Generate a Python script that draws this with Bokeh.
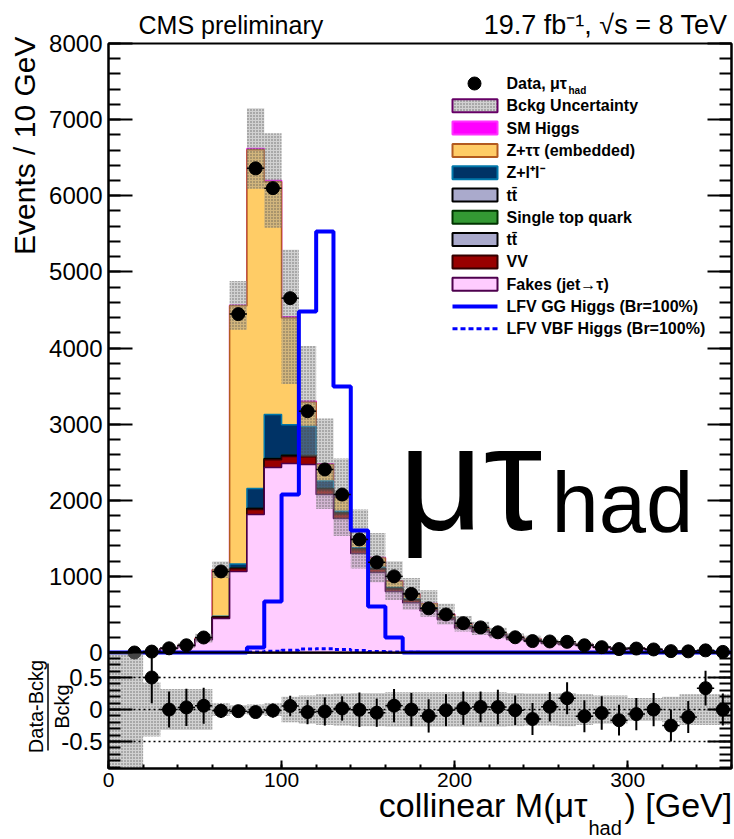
import math
import numpy as np
from bokeh.plotting import figure
from bokeh.models import Label, FixedTicker, LinearAxis, Range1d, GridBox
from bokeh.embed import file_html
from bokeh.resources import INLINE

FONT = "Liberation Sans"

# 10 GeV bins of the collinear mass, 0-360 GeV
bin_edges = list(range(0, 370, 10))

# observed events per bin (None: no entry drawn)
data_obs = [None, 0, 12, 55, 95, 197, 1065, 4445, 6360, 6100, 4655, 3170, 2405, 2075,
            1485, 1185, 1000, 770, 580, 500, 385, 330, 265, 200, 150, 145, 140, 95,
            70, 45, 52, 40, 18, 15, 28, 8]

# background processes, stacked bottom to top
bkg_fakes = [1, 3, 8, 52, 85, 168, 447, 1064, 1813, 2431, 2484, 2470, 2076, 1760,
             1300, 1050, 800, 655, 550, 432, 322, 272, 220, 175, 153, 121, 104, 93,
             65, 47, 49, 35, 21, 15, 18, 7]
bkg_vv = [0, 0, 0, 0, 0, 3, 15, 35, 65, 100, 90, 100, 62, 60, 50, 45, 35, 30, 25, 20,
          16, 14, 12, 10, 9, 7, 6, 5, 4, 3, 3, 2, 1, 1, 1, 0]
bkg_ttbar = [0, 0, 0, 0, 0, 0, 3, 6, 12, 14, 14, 15, 12, 10, 8, 8, 7, 6, 5, 5, 4, 4, 3,
             3, 2, 2, 2, 2, 1, 1, 1, 1, 0, 0, 0, 0]
bkg_single_top = [0, 0, 0, 0, 0, 0, 0, 1, 2, 3, 3, 3, 3, 2, 2, 2, 1, 1, 1, 1, 1, 1, 1,
                  0, 0, 0, 0, 0, 0, 0, 0, 0, 0, 0, 0, 0]
bkg_zll = [0, 0, 0, 0, 0, 0, 12, 55, 262, 580, 400, 380, 100, 25, 15, 15, 12, 10, 8, 6,
           5, 4, 3, 2, 2, 1, 1, 1, 1, 0, 0, 0, 0, 0, 0, 0]
bkg_ztt = [0, 0, 0, 3, 7, 15, 610, 3394, 4451, 3057, 1404, 320, 217, 175, 110, 122, 85,
           66, 53, 40, 28, 21, 16, 12, 10, 8, 6, 5, 3, 3, 3, 2, 2, 1, 2, 1]
bkg_smh = [0, 0, 0, 0, 0, 0, 0, 5, 15, 15, 15, 12, 10, 8, 5, 5, 3, 2, 2, 1, 1, 1, 0, 0,
           0, 0, 0, 0, 0, 0, 0, 0, 0, 0, 0, 0]

# relative background uncertainty per bin
bkg_rel_unc = [5, 5, 0.42, 0.32, 0.32, 0.32, 0.1, 0.07, 0.08, 0.1, 0.2, 0.22, 0.24,
               0.25, 0.26, 0.26, 0.27, 0.27, 0.27, 0.27, 0.27, 0.27, 0.27, 0.26, 0.25,
               0.25, 0.26, 0.24, 0.22, 0.22, 0.18, 0.18, 0.2, 0.24, 0.24, 0.24]

# error bars of the (Data-Bckg)/Bckg points
ratio_err = [None, None, 0.4, 0.28, 0.29, 0.28, 0.11, 0.06, 0.06, 0.11, 0.16, 0.19, 0.22,
             0.19, 0.27, 0.22, 0.26, 0.26, 0.26, 0.25, 0.26, 0.24, 0.27, 0.23, 0.25,
             0.23, 0.25, 0.25, 0.26, 0.24, 0.25, 0.26, 0.25, 0.25, 0.27, 0.25]

# LFV signal shapes (Br = 100%)
lfv_gg = [0, 0, 0, 0, 0, 0, 0, 0, 65, 670, 2076, 4481, 5532, 3495, 1603, 604, 197, 0,
          0, 0, 0, 0, 0, 0, 0, 0, 0, 0, 0, 0, 0, 0, 0, 0, 0, 0]
lfv_vbf = [0, 0, 0, 0, 0, 0, 0, 0, 5, 15, 30, 45, 50, 40, 25, 12, 5, 2, 0, 0, 0, 0, 0,
           0, 0, 0, 0, 0, 0, 0, 0, 0, 0, 0, 0, 0]

main_y_ticks = [0, 1000, 2000, 3000, 4000, 5000, 6000, 7000, 8000]
x_ticks = [0, 100, 200, 300]
ratio_y_ticks = [-0.5, 0, 0.5]
ratio_y_tick_labels = ["-0.5", "0", "0.5"]

# ---- page geometry (pixels) ----
W, H = 734, 839
FRAME_L, FRAME_R = 108, 731
FRAME_TOP, SPLIT, FRAME_BOTTOM = 43, 652, 768
MAIN_H = SPLIT - FRAME_TOP
RATIO_H = FRAME_BOTTOM - SPLIT
X_MAX, Y_MAX = 360, 8000
R_LO, R_HI = -0.92, 0.89

# one frame holds both pads: the event-count scale runs below zero into the ratio pad,
# and the ratio scale is an extra range covering the same frame
Y_LO = -RATIO_H * Y_MAX / MAIN_H
R_TOP = R_HI + MAIN_H * (R_HI - R_LO) / RATIO_H

# stippled look of the uncertainty bands
BAND_STYLE = dict(fill_color="#9a9a9a", fill_alpha=0.45, hatch_pattern="dot",
                  hatch_color="#404040", hatch_alpha=0.7, hatch_scale=3,
                  hatch_weight=1)


def ratio_to_main(v):
    return round(Y_LO + (v - R_LO) / (R_TOP - R_LO) * (Y_MAX - Y_LO), 4)


def style_axis(ax, label_size, major_in, minor_in):
    ax.major_tick_in = major_in
    ax.major_tick_out = 0
    ax.minor_tick_in = minor_in
    ax.minor_tick_out = 0
    ax.major_tick_line_width = 2
    ax.minor_tick_line_width = 2
    ax.axis_line_width = 2
    ax.axis_line_color = "black"
    ax.major_tick_line_color = "black"
    ax.minor_tick_line_color = "black"
    ax.major_label_text_font = FONT
    ax.major_label_text_font_size = f"{label_size}px"
    ax.major_label_text_color = "black"
    ax.major_label_standoff = 6


edges = np.array(bin_edges, dtype=float)
centers = 0.5 * (edges[:-1] + edges[1:])
half = 0.5 * np.diff(edges)

stack = [
    (bkg_fakes, "#ffccff", "#4d004d"),
    (bkg_vv, "#990000", "#330000"),
    (bkg_ttbar, "#9999cc", "#000000"),
    (bkg_single_top, "#339933", "#003300"),
    (bkg_zll, "#003366", "#0077aa"),
    (bkg_ztt, "#ffcc66", "#b35a1f"),
    (bkg_smh, "#ff00ff", "#ff00ff"),
]
cum = np.cumsum([np.array(c[0], dtype=float) for c in stack], axis=0)
total = cum[-1]
rel = np.array(bkg_rel_unc, dtype=float)
d = np.array([np.nan if v is None else v for v in data_obs], dtype=float)
rerr = np.array([np.nan if v is None else v for v in ratio_err], dtype=float)


def step_outline(h):
    xs = np.repeat(edges, 2)
    ys = np.concatenate([[0.0], np.repeat(np.asarray(h, dtype=float), 2), [0.0]])
    return xs, ys


def band_poly(lo, hi):
    xe = np.repeat(edges, 2)[1:-1]
    return (np.concatenate([xe, xe[::-1]]),
            np.concatenate([np.repeat(hi, 2), np.repeat(lo, 2)[::-1]]))


# ================= plot with both pads =================
p = figure(frame_width=FRAME_R - FRAME_L, frame_height=FRAME_BOTTOM - FRAME_TOP,
           x_range=Range1d(0, X_MAX), y_range=Range1d(Y_LO, Y_MAX),
           min_border_left=FRAME_L, min_border_right=W - FRAME_R,
           min_border_top=FRAME_TOP, min_border_bottom=H - FRAME_BOTTOM,
           output_backend="svg", toolbar_location=None)
p.extra_y_ranges = {"ratio": Range1d(R_LO, R_TOP)}
p.xgrid.visible = False
p.ygrid.visible = False
p.outline_line_color = "black"
p.outline_line_width = 2
p.outline_line_alpha = 1.0
p.background_fill_color = "white"
p.border_fill_color = "white"

ratio_tick_pos = [ratio_to_main(v) for v in ratio_y_ticks]
left_ticks = ratio_tick_pos + main_y_ticks
left_minor = ([ratio_to_main(round(-0.9 + 0.1 * k, 1)) for k in range(18)]
              + list(range(0, 8001, 200)))
overrides = {pos: lab for pos, lab in zip(ratio_tick_pos, ratio_y_tick_labels)}

yax = p.yaxis[0]
yax.ticker = FixedTicker(ticks=left_ticks, minor_ticks=left_minor)
style_axis(yax, 24, 24, 12)
yax.major_label_overrides = overrides

# right-hand tick marks only
rax = LinearAxis(ticker=FixedTicker(ticks=left_ticks, minor_ticks=left_minor))
style_axis(rax, 1, 24, 12)
rax.major_label_standoff = 0
rax.major_label_overrides = {pos: "" for pos in left_ticks}
p.add_layout(rax, "right")

xax = p.xaxis[0]
xax.ticker = FixedTicker(ticks=x_ticks, minor_ticks=list(range(0, 361, 20)))
style_axis(xax, 21, 8, 4)
xax.major_label_standoff = 4

# --- upper pad: stacked backgrounds, drawn as cumulative histograms from the top down
for i in reversed(range(len(stack))):
    xs, ys = step_outline(cum[i])
    p.patch(xs, ys, fill_color=stack[i][1], line_color=stack[i][2], line_width=1.5)

# background uncertainty band
bx, by = band_poly(np.maximum(total * (1 - rel), 0), total * (1 + rel))
p.patch(bx, by, line_color=None, **BAND_STYLE)

# LFV signal lines
gx, gy = step_outline(lfv_gg)
p.line(gx, gy, line_color="#0000ff", line_width=4)
vx, vy = step_outline(lfv_vbf)
p.line(vx, vy, line_color="#0000ff", line_width=3, line_dash="4 3")

# data points
ok = ~np.isnan(d)
p.segment(centers[ok] - half[ok], d[ok], centers[ok] + half[ok], d[ok],
          line_color="black", line_width=1.5)
p.scatter(centers[ok], d[ok], size=13, fill_color="black", line_color="black")

# --- lower pad: (Data-Bckg)/Bckg
rbx, rby = band_poly(np.maximum(-rel, R_LO), np.minimum(rel, R_HI))
p.patch(rbx, rby, line_color=None, y_range_name="ratio", **BAND_STYLE)
for lvl in ratio_y_ticks:
    p.segment(x0=0, x1=X_MAX, y0=lvl, y1=lvl, line_color="black", line_dash="2 3",
              line_width=1.5, y_range_name="ratio")

has = ok & (np.nan_to_num(d) > 0)
ratio = np.full_like(d, np.nan)
ratio[has] = d[has] / total[has] - 1
p.segment(centers[has] - half[has], ratio[has], centers[has] + half[has], ratio[has],
          line_color="black", line_width=1.5, y_range_name="ratio")
p.segment(centers[has], ratio[has] - rerr[has], centers[has],
          np.minimum(ratio[has] + rerr[has], R_HI),
          line_color="black", line_width=2, y_range_name="ratio")
p.scatter(centers[has], ratio[has], size=13, fill_color="black", line_color="black",
          y_range_name="ratio")

# pad boundary
p.segment(x0=0, x1=X_MAX, y0=0, y1=0, line_color="black", line_width=2)

# ================= titles, legend and tag layer (page pixels, y down) =================
o = figure(width=W, height=H, x_range=Range1d(0, W), y_range=Range1d(H, 0),
           min_border=0, x_axis_location=None, y_axis_location=None,
           output_backend="svg", toolbar_location=None)
o.xgrid.visible = False
o.ygrid.visible = False
o.outline_line_color = None
o.background_fill_color = None
o.border_fill_color = None


def add_text(x, y, text, size, align="left", angle=0.0, style="normal"):
    o.add_layout(Label(x=x, y=y, text=text, text_font=FONT,
                       text_font_size=f"{size}px", text_align=align,
                       text_baseline="middle", angle=angle,
                       text_font_style=style, text_color="black"))


add_text(138, 24, "CMS preliminary", 25)
add_text(727, 24, "19.7 fb\u207b\u00b9, \u221as = 8 TeV", 27, align="right")
add_text(24, 36, "Events / 10 GeV", 30, align="right", angle=math.pi / 2)

# ratio pad title as a fraction
add_text(35.5, 706, "Data-Bckg", 20, align="center", angle=math.pi / 2)
o.line([47.5, 47.5], [663, 750], line_color="black", line_width=1.5)
add_text(61.5, 706, "Bckg", 20, align="center", angle=math.pi / 2)

# x axis title
add_text(587, 804, "collinear M(\u03bc\u03c4", 34, align="right")
add_text(588, 827, "had", 20)
add_text(624, 804, ") [GeV]", 34)

# channel tag
add_text(398, 478, "\u03bc\u03c4", 148)
add_text(551, 502, "had", 85)

# legend
ROW0, ROW_STEP = 83, 22.3
BOX_L, BOX_R, TEXT_X = 452, 497, 506
legend_rows = [
    ("data", None, None, "Data, \u03bc\u03c4"),
    ("band", None, "#660066", "Bckg Uncertainty"),
    ("box", "#ff00ff", "#ff33ff", "SM Higgs"),
    ("box", "#ffcc66", "#b35a1f", "Z+\u03c4\u03c4 (embedded)"),
    ("box", "#003366", "#0077aa", "Z+l\u207al\u207b"),
    ("box", "#aaaacc", "#000000", "tt\u0304"),
    ("box", "#339933", "#003300", "Single top quark"),
    ("box", "#aaaacc", "#000000", "tt\u0304"),
    ("box", "#990000", "#330000", "VV"),
    ("box", "#ffccff", "#4d004d", "Fakes (jet\u2192\u03c4)"),
    ("solid", "#0000ff", None, "LFV GG Higgs (Br=100%)"),
    ("dash", "#0000ff", None, "LFV VBF Higgs (Br=100%)"),
]
for i, (kind, fill, line, text) in enumerate(legend_rows):
    yc = ROW0 + ROW_STEP * i
    if kind == "data":
        o.scatter([474], [yc], size=13, fill_color="black", line_color="black")
    elif kind == "band":
        o.quad(left=BOX_L, right=BOX_R, top=yc - 6.5, bottom=yc + 6.5,
               line_color=line, line_width=2, **BAND_STYLE)
    elif kind == "box":
        o.quad(left=BOX_L, right=BOX_R, top=yc - 6.5, bottom=yc + 6.5,
               fill_color=fill, line_color=line, line_width=2)
    elif kind == "solid":
        o.line([BOX_L, BOX_R], [yc, yc], line_color=fill, line_width=4)
    else:
        o.line([BOX_L, BOX_R], [yc, yc], line_color=fill, line_width=3,
               line_dash="5 3")
    add_text(TEXT_X, yc, text, 16, style="bold")
add_text(568, ROW0 + 7, "had", 10, style="bold")

# the text layer spans its own grid tracks so that its frame is not lined up with
# the plot frame; empty tracks collapse to zero size
layout = GridBox(children=[(p, 1, 1), (o, 0, 0, 3, 3)])
open("out.html", "w").write(file_html(layout, INLINE))
